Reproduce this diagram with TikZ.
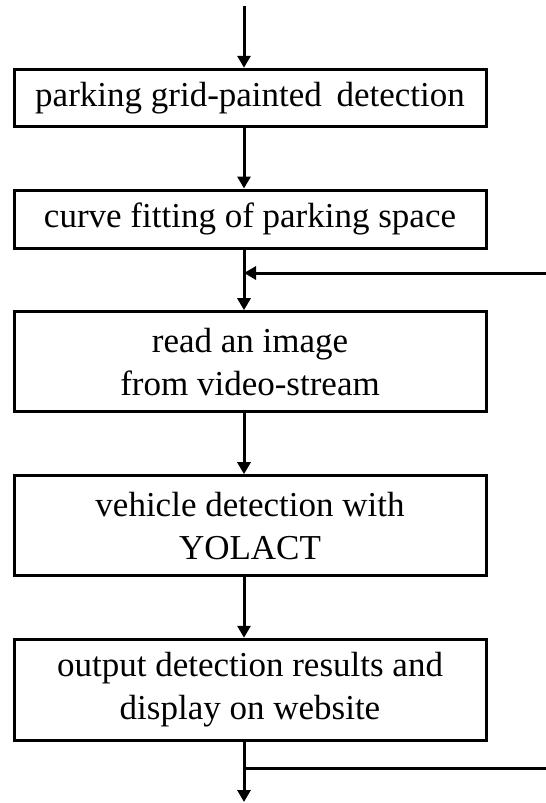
\documentclass[tikz,border=0pt]{standalone}
\usepackage{fontspec}
\setmainfont{Liberation Serif}
\usetikzlibrary{arrows.meta,calc}

\begin{document}
\begin{tikzpicture}[x=1pt,y=-1pt,
  stepbox/.style={draw, line width=3pt, minimum width=472pt, inner sep=0pt,
    align=center, font=\fontsize{35}{43}\selectfont},
  flow/.style={line width=3pt, -{Triangle[width=13pt,length=12pt]}},
  plain/.style={line width=3pt}]
  \useasboundingbox (0,0) rectangle (546,803);

  % main column of the flow chart
  \coordinate (spine) at (244,0);
  \coordinate (start) at (244,6);
  \coordinate (finish) at (244,802);
  \coordinate (loopin) at (546,273);
  \coordinate (loopout) at (546,768);

  \node[stepbox, minimum height=57.5pt] (b1) at (250,98)
    {parking grid-painted\, detection};
  \node[stepbox, minimum height=58pt] (b2) at (250,219)
    {curve fitting of parking space};
  \node[stepbox, minimum height=100pt] (b3) at (250,361.7)
    {read an image\\from video-stream};
  \node[stepbox, minimum height=100pt] (b4) at (250,525.7)
    {vehicle detection with\\YOLACT};
  \node[stepbox, minimum height=101.5pt] (b5) at (250,690)
    {output detection results and\\display on website};

  % connectors
  \draw[flow] (start) -- (b1.north -| spine);
  \draw[flow] (b1.south -| spine) -- (b2.north -| spine);
  \draw[flow] (b2.south -| spine) -- (b3.north -| spine);
  \draw[flow] (b3.south -| spine) -- (b4.north -| spine);
  \draw[flow] (b4.south -| spine) -- (b5.north -| spine);
  \draw[flow] (b5.south -| spine) -- (finish);

  % loop back into the stream and branch out after the output
  \draw[flow] (loopin) -- (loopin -| spine);
  \draw[plain] (loopout -| spine) -- (loopout);
\end{tikzpicture}
\end{document}
